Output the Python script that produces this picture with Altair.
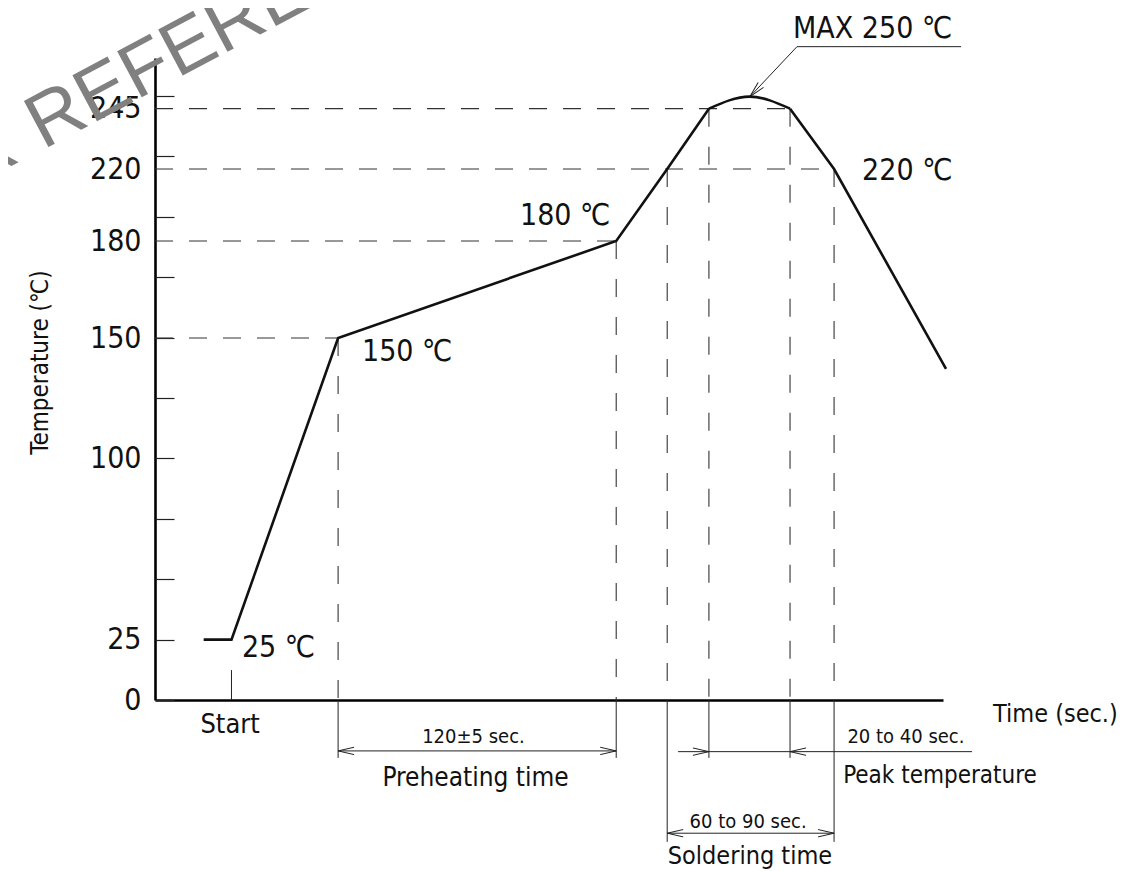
import altair as alt
import pandas as pd

# ---------------- data (time in s, temperature in deg C) ----------------
ramp_t = [21, 33, 79, 199, 221, 239]
ramp_v = [25, 25, 150, 180, 220, 245]
peak_t = [239, 256.5, 274]
peak_v = [245, 250, 245]
cool_t = [274, 293, 341.3]
cool_v = [245, 220, 137.2]

y_label_values = [0, 25, 100, 150, 180, 220, 245]
minor_tick_values = [0, 25, 50, 75, 100, 125, 150, 175, 200, 225, 250]

h_guide_level = [150, 180, 220, 245]
h_guide_end = [79, 199, 293, 274]

v_guide_time = [79, 199, 221, 239, 274, 293]
v_guide_top = [150, 180, 220, 245, 245, 220]
ext_bottom = [-24, -24, -58.8, -24, -24, -58.8]

start_time = [33]
start_tick_top = [12.4]

dim_start = [79, 225.7, 221]
dim_end = [199, 352.5, 293]
dim_level = [-21.1, -21.4, -55.2]

arrow_time = [79, 199, 239, 274, 221, 293, 256.7]
arrow_level = [-21.1, -21.1, -21.4, -21.4, -55.2, -55.2, 250]
arrow_angle = [0, 180, 180, 0, 0, 180, 313]

leader_time = [256.7, 277, 347.8]
leader_level = [250, 270.7, 270.7]

big_text = ["25 ℃", "150 ℃", "180 ℃", "220 ℃", "MAX 250 ℃", "Time (sec.)"]
big_time = [37.5, 89.3, 157.5, 305.1, 275.3, 361.6]
big_level = [21.5, 144.2, 193.9, 218.9, 278.0, -5.8]
big_size = [30, 30, 30, 30, 30, 25]

mid_text = ["120±5 sec.", "20 to 40 sec.", "60 to 90 sec.",
            "Start", "Preheating time", "Peak temperature", "Soldering time"]
mid_time = [137.4, 324.0, 255.9, 32.4, 138.3, 338.7, 256.7]
mid_level = [-15.5, -15.3, -50.6, -10.4, -32.3, -31.5, -64.6]
mid_size = [20, 20, 20, 27, 26, 24, 25]

wm_words = ["FOR", "REFERENCE"]
wm_time = [-57.5, -48.3]
wm_level = [223.5, 227.9]

# ---------------- styling ----------------
FONT = "DejaVu Sans Condensed, DejaVu Sans, sans-serif"
INK = "#111111"
W, H = 788, 642
ARROW = "M1,-0.23L0,0L1,0.23"

xs = alt.Scale(domain=[0, 340], nice=False, zero=False)
ys = alt.Scale(domain=[0, 150, 180, 220, 266], range=[642, 280, 183, 111, 0],
               nice=False, zero=False, clamp=False)

xax = alt.Axis(domain=True, domainColor="black", domainWidth=2.6, ticks=False,
               labels=False, grid=False, title=None)
yax = alt.Axis(values=y_label_values, domain=True, domainColor="black", domainWidth=2.6,
               ticks=False, labelFont=FONT, labelFontSize=30, labelColor=INK,
               labelPadding=14, labelOverlap=False, labelFlush=False, grid=False,
               format="d", title="Temperature (℃)", titleFont=FONT, titleFontSize=24,
               titleFontWeight="normal", titleColor=INK, titleAngle=270,
               titleX=-115, titleY=304, titleAlign="center", titleBaseline="middle")


def X(f="t"):
    return alt.X(f, type="quantitative", scale=xs, axis=xax)


def Y(f="v"):
    return alt.Y(f, type="quantitative", scale=ys, axis=yax)


def line_layer(ts, vs, interp="linear", width=2.6, color=INK):
    df = pd.DataFrame({"t": ts, "v": vs, "o": list(range(len(ts)))})
    return alt.Chart(df).mark_line(interpolate=interp, strokeWidth=width, color=color,
                                   strokeJoin="miter").encode(
        x=X(), y=Y(), order="o:Q")


curve_a = line_layer(ramp_t, ramp_v)
curve_peak = line_layer(peak_t, peak_v, interp="monotone")
curve_b = line_layer(cool_t, cool_v)

h_df = pd.DataFrame({"t": [0] * len(h_guide_end), "t2": h_guide_end,
                     "v": h_guide_level, "v2": h_guide_level})
h_guides = alt.Chart(h_df).mark_rule(strokeDash=[18, 16], strokeWidth=1.1,
                                     color="#333333").encode(
    x=X(), x2="t2", y=Y(), y2="v2")

v_df = pd.DataFrame({"t": v_guide_time, "t2": v_guide_time,
                     "v": v_guide_top, "v2": [0] * len(v_guide_time)})
v_guides = alt.Chart(v_df).mark_rule(strokeDash=[18, 20], strokeWidth=1.1,
                                     color="#333333").encode(
    x=X(), x2="t2", y=Y(), y2="v2")

e_df = pd.DataFrame({"t": v_guide_time + start_time, "t2": v_guide_time + start_time,
                     "v": [0] * len(v_guide_time) + start_tick_top,
                     "v2": ext_bottom + [0]})
ext_lines = alt.Chart(e_df).mark_rule(strokeWidth=1, color="#222222").encode(
    x=X(), x2="t2", y=Y(), y2="v2")

d_df = pd.DataFrame({"t": dim_start, "t2": dim_end, "v": dim_level, "v2": dim_level})
dim_lines = alt.Chart(d_df).mark_rule(strokeWidth=1, color="#222222").encode(
    x=X(), x2="t2", y=Y(), y2="v2")

a_df = pd.DataFrame({"t": arrow_time, "v": arrow_level, "a": arrow_angle})
arrows = alt.Chart(a_df).mark_point(shape=ARROW, filled=False, size=1024,
                                    stroke="#222222", strokeWidth=1, opacity=1).encode(
    x=X(), y=Y(), angle=alt.Angle("a:Q", scale=None))

leader = line_layer(leader_time, leader_level, width=1, color="#222222")

bt_df = pd.DataFrame({"t": big_time, "v": big_level, "txt": big_text, "fs": big_size})
big_labels = alt.Chart(bt_df).mark_text(align="left", baseline="middle", font=FONT,
                                        color=INK).encode(
    x=X(), y=Y(), text="txt:N", size=alt.Size("fs:Q", scale=None, legend=None))

mt_df = pd.DataFrame({"t": mid_time, "v": mid_level, "txt": mid_text, "fs": mid_size})
mid_labels = alt.Chart(mt_df).mark_text(align="center", baseline="middle", font=FONT,
                                        color=INK).encode(
    x=X(), y=Y(), text="txt:N", size=alt.Size("fs:Q", scale=None, legend=None))

WM_FONT = "Liberation Sans, DejaVu Sans, sans-serif"
wm1 = alt.Chart(pd.DataFrame({"t": wm_time[:1], "v": wm_level[:1], "txt": wm_words[:1]})
                ).mark_text(align="right", baseline="alphabetic", font=WM_FONT,
                            fontSize=76, angle=332, color="#808080").encode(
    x=X(), y=Y(), text="txt:N")
wm2 = alt.Chart(pd.DataFrame({"t": wm_time[1:], "v": wm_level[1:], "txt": wm_words[1:]})
                ).mark_text(align="left", baseline="alphabetic", font=WM_FONT,
                            fontSize=76, angle=332, color="#808080").encode(
    x=X(), y=Y(), text="txt:N")

main = alt.layer(wm1, wm2, h_guides, v_guides, ext_lines, dim_lines, arrows, leader,
                 curve_a, curve_peak, curve_b, big_labels, mid_labels)

tick_df = pd.DataFrame({"v": [0, 250]})
tick_axis = alt.Chart(tick_df).mark_point(opacity=0).encode(
    y=alt.Y("v:Q", scale=alt.Scale(domain=[0, 265.7], nice=False, zero=False),
            axis=alt.Axis(values=minor_tick_values, orient="left", domain=False,
                          labels=False, ticks=True, tickSize=19, tickColor="#222222",
                          tickWidth=1.2, offset=-19, grid=False, title=None)))

chart = alt.layer(main, tick_axis).resolve_scale(y="independent").properties(
    width=W, height=H,
    background="white",
    autosize=alt.AutoSizeParams(type="none"),
    padding={"left": 147, "top": 50, "right": 178, "bottom": 171},
).configure_view(stroke=None)

chart.save("out.html", embed_options={"renderer": "svg", "actions": False})
